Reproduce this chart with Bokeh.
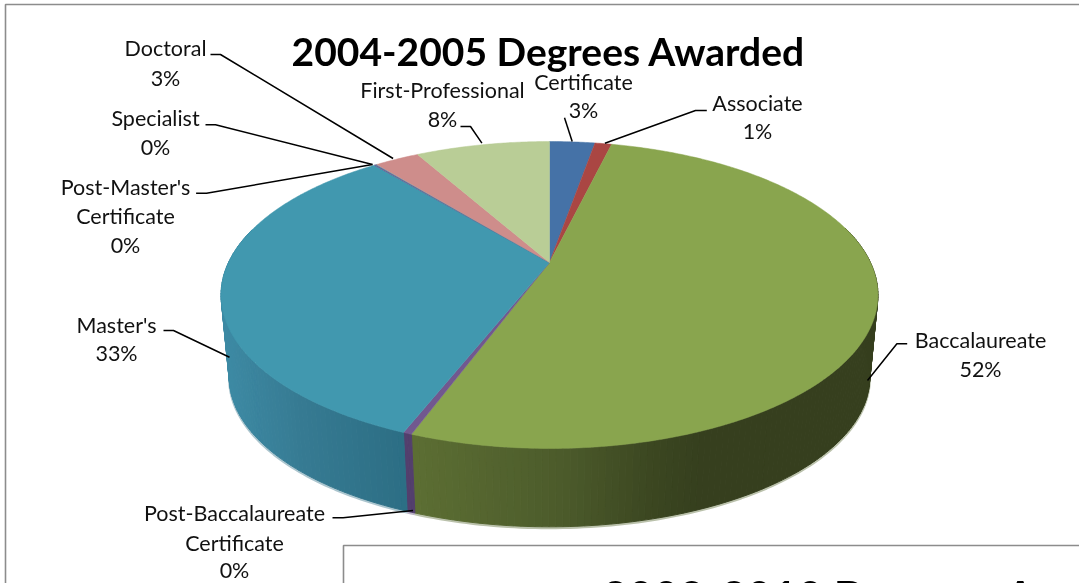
import numpy as np
from bokeh.plotting import figure
from bokeh.models import Range1d
from bokeh.core.properties import value
from bokeh.embed import file_html
from bokeh.resources import INLINE

# ---- data ----
categories = ["Certificate", "Associate", "Baccalaureate", "Post-Baccalaureate Certificate",
              "Master's", "Post-Master's Certificate", "Specialist", "Doctoral", "First-Professional"]
shares = [2.74, 1.01, 51.85, 0.35, 33.1, 0.1, 0.05, 2.7, 8.1]
top_colors = ["#4572A7", "#AA4643", "#89A54E", "#71588F", "#4198AF", "#71588F", "#4198AF", "#CE8D8B", "#B9CD96"]
title_text = "2004-2005 Degrees Awarded"
second_title = "2008-2010 Degrees A"

# ---- layout (page pixels) ----
W, H = 1079, 583
CX, CY = 549.0, 262.0
A, B, K = 321.0, 146.6, 0.2117
SHRINK, DROP = 0.975, 83.0
FONT = value("Lato")
LABEL_PX = "21.5px"

label_layout = {
    "Certificate": (583, [81, 109], ["Certificate"]),
    "Associate": (757, [102, 130], ["Associate"]),
    "Baccalaureate": (980, [339, 368], ["Baccalaureate"]),
    "Post-Baccalaureate Certificate": (234, [512, 542, 569], ["Post-Baccalaureate", "Certificate"]),
    "Master's": (116, [324, 352], ["Master's"]),
    "Post-Master's Certificate": (125, [186, 215, 244], ["Post-Master's", "Certificate"]),
    "Specialist": (155, [117, 146], ["Specialist"]),
    "Doctoral": (165, [47, 77], ["Doctoral"]),
    "First-Professional": (442, [89, 118], ["First-Professional"]),
}
leaders = [
    [(210, 54), (220, 54), (392.6, 158)],
    [(205, 124.3), (215, 124.3), (372, 164)],
    [(195.6, 192.7), (206, 192.7), (372, 164)],
    [(460, 126), (470, 126), (481.4, 142.7)],
    [(564, 117.3), (571.7, 141)],
    [(706.3, 110), (695, 110), (604.4, 142.7)],
    [(163, 330), (173, 330), (229, 356.7)],
    [(332, 517.3), (342.6, 517.3), (412.5, 510)],
    [(906.7, 343.3), (896.4, 343.3), (867, 380)],
]


def rim(theta):
    """Top-face rim in page pixels for clockwise angle from 12 o'clock (radians)."""
    x, y = np.sin(theta), -np.cos(theta)
    d = 1 - K * y
    return CX + A * x / d, CY + B * y / d


def base(theta):
    x, y = rim(theta)
    return CX + SHRINK * (x - CX), CY + DROP + SHRINK * (y - CY)


def lerp_hex(stops, t):
    xs = [s[0] for s in stops]
    rgb = [np.interp(t, xs, [int(s[1][i:i + 2], 16) for s in stops]) for i in (1, 3, 5)]
    return "#%02x%02x%02x" % tuple(int(round(v)) for v in rgb)


side_stops = {
    "Baccalaureate": [(412, "#5C6E33"), (560, "#4C5B2B"), (660, "#3A4520"), (700, "#363F1E"), (880, "#363F1E")],
    "Post-Baccalaureate Certificate": [(400, "#533F6D"), (420, "#533F6D")],
    "Master's": [(220, "#3D8AA4"), (300, "#367A92"), (405, "#2C6E84")],
}

p = figure(width=W, height=H, x_range=Range1d(0, W), y_range=Range1d(H, 0),
           output_backend="svg", toolbar_location=None, min_border=0,
           background_fill_color="white", border_fill_color="white", outline_line_color=None)
p.axis.visible = False
p.grid.visible = False
p.styles = {"position": "fixed", "left": "0px", "top": "0px"}

# frame of this chart
p.line([5, 5, W + 5], [H + 5, 4, 4], line_color="#8C8C8C", line_width=1.6)

edges = np.radians(np.concatenate([[0], np.cumsum(shares)]) * 3.6)

# side wall
for name, t0, t1 in zip(categories, edges[:-1], edges[1:]):
    if name not in side_stops:
        continue
    n = max(2, int(np.degrees(t1 - t0)))
    th = np.linspace(t0, t1, n + 1)
    th = th[np.cos(th) < 0.25]
    bx, by = base(th)
    # soft fringe along the lower rim
    p.line(bx, by + 1.2, line_color=lerp_hex(side_stops[name], 500), line_alpha=0.4, line_width=2.4)
    xs, ys, cols = [], [], []
    for a, b in zip(th[:-1], th[1:]):
        xa, ya = rim(a); xb, yb = rim(b)
        xc, yc = base(b); xd, yd = base(a)
        xs.append([xa, xb, xc, xd]); ys.append([ya, yb, yc, yd])
        cols.append(lerp_hex(side_stops[name], (xa + xb) / 2))
    p.patches(xs, ys, fill_color=cols, line_color=cols, line_width=1)

# top face
for col, t0, t1 in zip(top_colors, edges[:-1], edges[1:]):
    th = np.linspace(t0, t1, max(3, int(np.degrees(t1 - t0) * 2) + 1))
    x, y = rim(th)
    p.patch(np.r_[CX, x], np.r_[CY, y], fill_color=col, line_color=col, line_width=0.5)

# leaders
p.multi_line([[q[0] for q in l] for l in leaders], [[q[1] for q in l] for l in leaders],
             line_color="black", line_width=1.5)

# labels
tx, ty, tt = [], [], []
for name, share in zip(categories, shares):
    cx, rows, lines = label_layout[name]
    for row, txt in zip(rows, lines + [f"{round(share)}%"]):
        tx.append(cx); ty.append(row); tt.append(txt)
p.text(tx, ty, text=tt, text_font=FONT, text_font_size=LABEL_PX, text_color="#111111",
       text_align="center", text_baseline="middle")

p.text([548], [50.5], text=[title_text], text_font=FONT, text_font_size="39px", text_font_style="bold",
       text_color="black", text_align="center", text_baseline="middle")

# second chart peeking in
p.quad(left=[343], right=[W + 10], top=[545], bottom=[H + 10], fill_color="white",
       line_color="#8C8C8C", line_width=1.6)
p.text([602], [569], text=[second_title], text_font=FONT, text_font_size="44px", text_font_style="bold",
       text_color="black", text_align="left", text_baseline="top")

open("out.html", "w").write(file_html(p, INLINE))
